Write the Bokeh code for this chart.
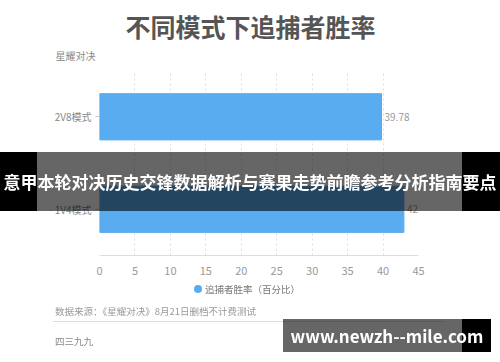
from bokeh.plotting import figure
from bokeh.models import Title, ColumnDataSource, Range1d, FactorRange, Div
from bokeh.core.properties import value
from bokeh.embed import file_html
from bokeh.resources import INLINE

categories = ["1V4模式", "2V8模式"]
win_rates = [42.94, 39.78]
x_ticks = [0, 5, 10, 15, 20, 25, 30, 35, 40, 45]
title_text = "不同模式下追捕者胜率"
subtitle_text = "星耀对决"
legend_text = "追捕者胜率（百分比）"
source_text = "数据来源：《星耀对决》8月21日删档不计费测试"
author_text = "四三九九"
banner_text = "意甲本轮对决历史交锋数据解析与赛果走势前瞻参考分析指南要点"
site_text = "www.newzh--mile.com"

FONT = "Noto Sans CJK SC"
BAR = "#5aacf0"

W, H = 500, 362
p = figure(width=W, height=H, y_range=FactorRange(*categories), x_range=Range1d(0, 45),
           output_backend="svg", toolbar_location=None,
           min_border_left=99, min_border_right=82, min_border_top=70, min_border_bottom=107)
p.title.text = ""
p.background_fill_color = "white"
p.border_fill_color = "white"
p.outline_line_color = None

src = ColumnDataSource(dict(cat=categories, val=win_rates, lab=[f"{v:.2f}" for v in win_rates]))
bars = p.hbar(y="cat", right="val", left=0, height=0.5, source=src,
              fill_color=BAR, line_color=BAR)
p.text(x="val", y="cat", text="lab", source=src, x_offset=3,
       text_baseline="middle", text_align="left", text_font_size="10px",
       text_color="#999999", text_font=value(FONT))

p.xaxis.ticker = x_ticks
p.xaxis.major_label_text_font = FONT
p.xaxis.major_label_text_font_size = "11px"
p.xaxis.major_label_text_color = "#999999"
p.xaxis.axis_line_color = "#dddddd"
p.xaxis.major_tick_line_color = None
p.xaxis.minor_tick_line_color = None
p.xaxis.major_label_standoff = 5

p.yaxis.major_label_text_font = FONT
p.yaxis.major_label_text_font_size = "10px"
p.yaxis.major_label_text_color = "#888888"
p.yaxis.axis_line_color = None
p.yaxis.major_tick_line_color = "#cccccc"
p.yaxis.major_tick_out = 4
p.yaxis.major_tick_in = 0
p.yaxis.major_label_standoff = 4

p.xgrid.grid_line_color = "#dddddd"
p.xgrid.grid_line_dash = "2 3"
p.ygrid.grid_line_color = None

# titles above (first added = nearest the frame)
p.add_layout(Title(text=subtitle_text, align="left", offset=-44, standoff=15,
                   text_font=FONT, text_font_size="10px", text_color="#888888",
                   text_font_style="normal"), "above")
p.add_layout(Title(text=title_text, align="left", offset=26, standoff=-10,
                   text_font=FONT, text_font_size="25px", text_color="#555555",
                   text_font_style="bold"), "above")


def box(l, t, w, h, bg, extra=""):
    return (f'<div style="position:fixed;left:{l}px;top:{t}px;width:{w}px;height:{h}px;'
            f'background:{bg};{extra}"></div>')


def txt(l, t, w, h, s, size, color="#ffffff", bold=True, align="center"):
    return (f'<div style="position:fixed;left:{l}px;top:{t}px;width:{w}px;height:{h}px;'
            f'line-height:{h}px;text-align:{align};color:{color};'
            f'font-weight:{"bold" if bold else "normal"};'
            f'font-size:{size}px;font-family:\'{FONT}\';white-space:nowrap;">{s}</div>')


html = "".join([
    # legend
    box(194, 285, 8, 8, BAR, "border-radius:50%;"),
    txt(205, 281, 150, 16, legend_text, 9.5, "#777777", False, "left"),
    # footer
    txt(55, 303, 400, 16, source_text, 9.5, "#999999", False, "left"),
    box(53, 321, 390, 1, "#dddddd"),
    txt(55, 333, 200, 16, author_text, 9.5, "#888888", False, "left"),
    # overlay banners
    box(0, 152, 37, 59, "#000000"),
    box(37, 152, 425, 59, "rgba(0,0,0,0.6)"),
    box(462, 152, 38, 59, "#000000"),
    txt(0, 152, 500, 59, banner_text, 17),
    box(283, 319, 179, 33, "rgba(0,0,0,0.6)"),
    box(462, 319, 29, 33, "#000000"),
    txt(283, 319, 208, 33, site_text, 17),
])
overlay = Div(text=html, width=1, height=1,
              styles={"position": "fixed", "left": "0px", "top": "0px", "z-index": "10",
                      "pointer-events": "none"})

open("out.html", "w").write(file_html([p, overlay], INLINE))
